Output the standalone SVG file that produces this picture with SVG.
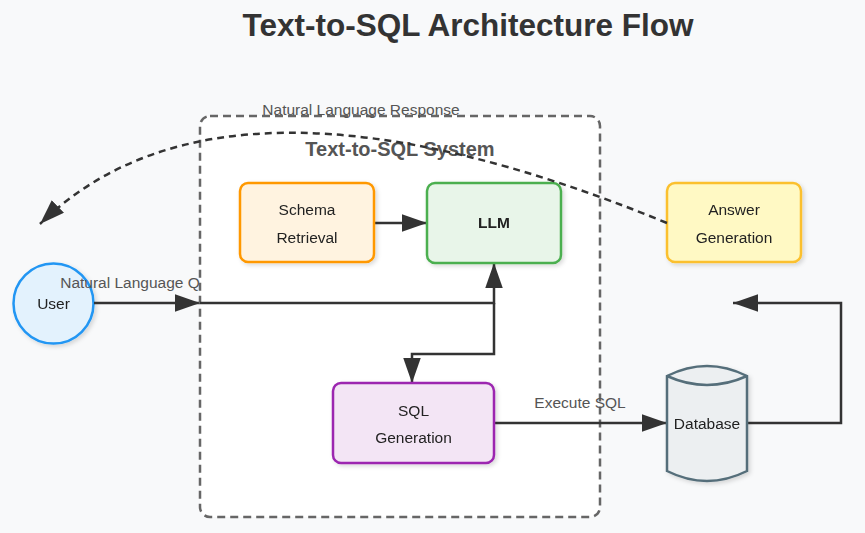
<svg xmlns="http://www.w3.org/2000/svg" width="865" height="533" viewBox="0 0 865 533">
  <style>
    .node-text { font-family: "Liberation Sans", Arial, sans-serif; font-size: 15.5px; fill: #222; text-anchor: middle; }
    .bold { font-weight: bold; }
    .label { font-family: "Liberation Sans", Arial, sans-serif; font-size: 15.5px; fill: #555; text-anchor: middle; }
    .conn { fill: none; stroke: #333; stroke-width: 2.5; }
    .dashed { stroke-dasharray: 7,5; }
  </style>
  <defs>
    <marker id="arrow" markerWidth="10" markerHeight="7" refX="10" refY="3.5" orient="auto" markerUnits="strokeWidth">
      <path d="M0,0 L10,3.5 L0,7 Z" fill="#333"/>
    </marker>
    <filter id="shadow" x="-20%" y="-20%" width="140%" height="140%">
      <feDropShadow dx="2" dy="2" stdDeviation="2" flood-color="#000" flood-opacity="0.15"/>
    </filter>
  </defs>

  <rect x="0" y="0" width="865" height="533" fill="#f8f9fa"/>

  <text x="468" y="36" font-family="Liberation Sans, Arial, sans-serif" font-size="31.5" font-weight="bold" fill="#333" text-anchor="middle">Text-to-SQL Architecture Flow</text>

  <g id="user" filter="url(#shadow)">
    <circle cx="53.5" cy="303.5" r="40" fill="#e3f2fd" stroke="#2196f3" stroke-width="2.5"/>
    <text class="node-text" x="53.5" y="309">User</text>
  </g>

  <!-- connector drawn under the system box -->
  <g id="conn-user">
    <text class="label" x="130" y="288">Natural Language Q</text>
    <path class="conn" d="M94,303 L200,303" marker-end="url(#arrow)"/>
  </g>

  <g id="system">
    <rect x="200" y="116" width="400" height="401" rx="10" fill="#fff" stroke="#666" stroke-width="2.5" stroke-dasharray="8,5"/>
    <text x="400" y="156" font-family="Liberation Sans, Arial, sans-serif" font-size="20" font-weight="bold" fill="#555" text-anchor="middle">Text-to-SQL System</text>
  </g>

  <g id="connectors">
    <path class="conn" d="M200,303 L494,303 L494,263" marker-end="url(#arrow)"/>
    <path class="conn" d="M494,303 L494,354 L412,354 L412,383" marker-end="url(#arrow)"/>
    <path class="conn" d="M374,223 L427,223" marker-end="url(#arrow)"/>
    <path class="conn" d="M494,423 L667,423" marker-end="url(#arrow)"/>
    <text class="label" x="580" y="408">Execute SQL</text>
    <path class="conn" d="M747,423 L841,423 L841,303 L733,303" marker-end="url(#arrow)"/>
    <text class="label" x="361" y="115">Natural Language Response</text>
  </g>

  <g id="schema" filter="url(#shadow)">
    <rect x="240" y="183" width="134" height="79" rx="8" fill="#fff3e0" stroke="#ff9800" stroke-width="2.5"/>
    <text class="node-text" x="307" y="215">Schema</text>
    <text class="node-text" x="307" y="243">Retrieval</text>
  </g>

  <g id="llm" filter="url(#shadow)">
    <rect x="427" y="183" width="134" height="80" rx="8" fill="#e8f5e9" stroke="#4caf50" stroke-width="2.5"/>
    <text class="node-text bold" x="494" y="228">LLM</text>
  </g>

  <g id="answer" filter="url(#shadow)">
    <rect x="667" y="183" width="134" height="79" rx="8" fill="#fff9c4" stroke="#fbc02d" stroke-width="2.5"/>
    <text class="node-text" x="734" y="215">Answer</text>
    <text class="node-text" x="734" y="243">Generation</text>
  </g>

  <g id="sqlgen" filter="url(#shadow)">
    <rect x="333" y="383" width="161" height="80" rx="8" fill="#f3e5f5" stroke="#9c27b0" stroke-width="2.5"/>
    <text class="node-text" x="413.5" y="416">SQL</text>
    <text class="node-text" x="413.5" y="443">Generation</text>
  </g>

  <g id="database" filter="url(#shadow)">
    <path d="M667,376 Q707,356 747,376 L747,471 Q707,491 667,471 Z" fill="#eceff1" stroke="#546e7a" stroke-width="2.5"/>
    <path d="M667,376 Q707,394 747,376" fill="none" stroke="#546e7a" stroke-width="2.5"/>
    <text class="node-text" x="707" y="429">Database</text>
  </g>

  <g id="conn-response">
    <path class="conn dashed" d="M667,223 Q226,42 40,224" marker-end="url(#arrow)"/>
  </g>
</svg>
